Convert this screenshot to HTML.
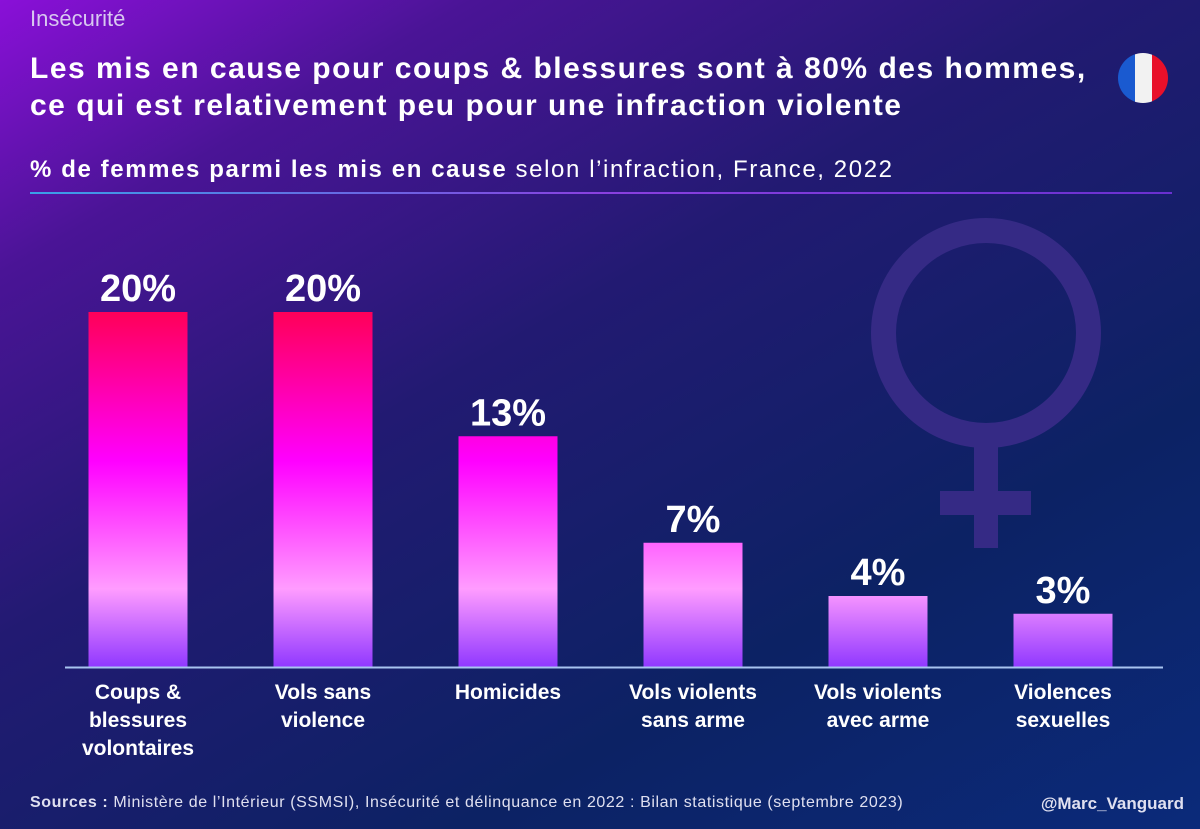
<!DOCTYPE html>
<html><head><meta charset="utf-8"><style>
body{margin:0;width:1200px;height:829px;overflow:hidden;font-family:"Liberation Sans",sans-serif}
#wrap{position:relative;width:1200px;height:829px;background:linear-gradient(150deg,#8a10d8 0%,#4a1496 18%,#221a72 42%,#0c2264 72%,#0b2a7a 100%)}
.t{position:absolute;color:#fff;white-space:nowrap}
</style></head><body>
<div id="wrap">
<div class="t" style="left:30px;top:6px;font-size:22px;color:#d8c8f0">Insécurité</div>
<div class="t" style="left:30px;top:50px;font-size:30px;letter-spacing:1.5px;font-weight:bold;line-height:37px">Les mis en cause pour coups &amp; blessures sont à 80% des hommes,<br>ce qui est relativement peu pour une infraction violente</div>
<div class="t" style="left:30px;top:156px;font-size:24px;letter-spacing:1.6px"><b>% de femmes parmi les mis en cause</b> selon l’infraction, France, 2022</div>
<div class="t" style="left:30px;top:794px;font-size:16px;letter-spacing:0.6px;color:#e0e0f0"><b>Sources :</b> Ministère de l’Intérieur (SSMSI), Insécurité et délinquance en 2022 : Bilan statistique (septembre 2023)</div>
<div class="t" style="right:16px;top:794px;font-size:17px;font-weight:bold;color:#e0e0f0">@Marc_Vanguard</div>
<svg id="chart" width="1200" height="829" style="position:absolute;left:0;top:0">
<defs>
<linearGradient id="sep" gradientUnits="userSpaceOnUse" x1="30" y1="0" x2="1172" y2="0"><stop offset="0" stop-color="#3aa0e8"/><stop offset="0.5" stop-color="#8a40e0"/><stop offset="1" stop-color="#6a30d0"/></linearGradient>
<linearGradient id="bg" gradientUnits="userSpaceOnUse" x1="0" y1="312" x2="0" y2="667">
<stop offset="0" stop-color="#ff0058"/><stop offset="0.42" stop-color="#ff00ff"/><stop offset="0.78" stop-color="#ff9cff"/><stop offset="1" stop-color="#9038ff"/></linearGradient>
<clipPath id="fc"><circle cx="1143" cy="78" r="25"/></clipPath>
</defs>
<rect x="30" y="192" width="1142" height="2" fill="url(#sep)"/>
<g fill="#352a85">
<circle cx="986" cy="333" r="102.5" fill="none" stroke="#352a85" stroke-width="25"/>
<rect x="974" y="440" width="24" height="108"/>
<rect x="940" y="491" width="91" height="24"/>
</g>
<g clip-path="url(#fc)">
<rect x="1118" y="53" width="17" height="50" fill="#1a5ad0"/>
<rect x="1135" y="53" width="17" height="50" fill="#f2f2f2"/>
<rect x="1152" y="53" width="17" height="50" fill="#e8102a"/>
</g>
<g id="bars"></g>
<line x1="65" y1="667.5" x2="1163" y2="667.5" stroke="#a8c4f0" stroke-width="2"/>
</svg>
</div>
<script>
const categories=[["Coups &","blessures","volontaires"],["Vols sans","violence"],["Homicides"],["Vols violents","sans arme"],["Vols violents","avec arme"],["Violences","sexuelles"]];
const values=[20,20,13,7,4,3];
const valueLabels=["20%","20%","13%","7%","4%","3%"];
const NS="http://www.w3.org/2000/svg";
const base=667, pxPer=17.75, x0=138, step=185, bw=99;
const yScale=v=>base-v*pxPer;
const xScale=i=>x0+i*step;
const g=document.getElementById('bars');
values.forEach((v,i)=>{
  const cx=xScale(i), top=yScale(v);
  const r=document.createElementNS(NS,'rect');
  r.setAttribute('x',cx-bw/2);r.setAttribute('y',top);r.setAttribute('width',bw);r.setAttribute('height',base-top);r.setAttribute('fill','url(#bg)');
  
  
  g.appendChild(r);
  const t=document.createElementNS(NS,'text');
  t.setAttribute('x',cx);t.setAttribute('y',top-11);t.setAttribute('text-anchor','middle');t.setAttribute('fill','#fff');t.setAttribute('font-size','38');t.setAttribute('font-weight','bold');t.setAttribute('font-family','Liberation Sans, sans-serif');
  t.textContent=valueLabels[i];
  
  
  g.appendChild(t);
  const l=document.createElementNS(NS,'text');
  l.setAttribute('text-anchor','middle');l.setAttribute('fill','#fff');l.setAttribute('font-size','21');l.setAttribute('font-weight','bold');l.setAttribute('font-family','Liberation Sans, sans-serif');
  
  
  categories[i].forEach((s,j)=>{const ts=document.createElementNS(NS,'tspan');ts.setAttribute('x',cx);ts.setAttribute('y',699+j*28);ts.textContent=s;l.appendChild(ts);});
  g.appendChild(l);
});
</script>
</body></html>
